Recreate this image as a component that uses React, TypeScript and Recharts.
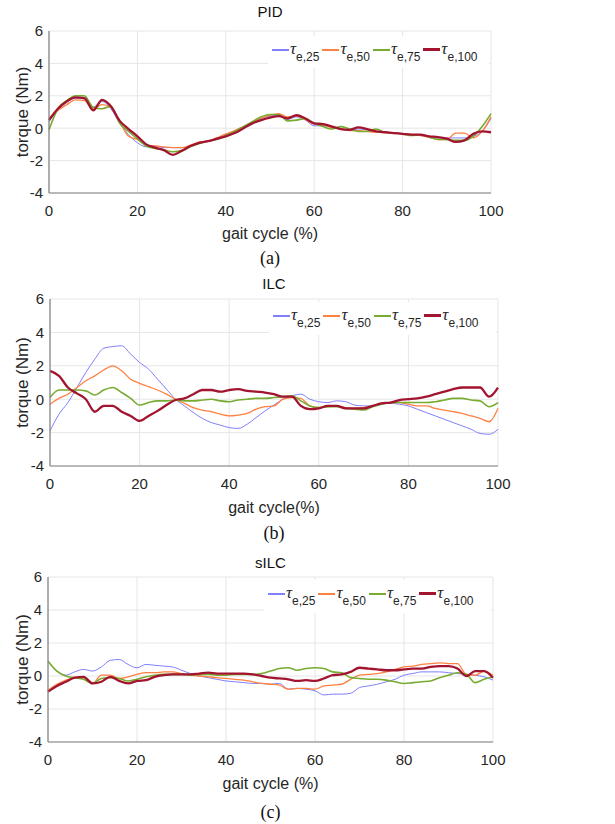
import React from "react";
import {
  LineChart,
  Line,
  XAxis,
  YAxis,
  CartesianGrid,
  Legend,
} from "recharts";

// x positions (% of gait cycle)
const gait = [
  0, 2, 4, 6, 8, 10, 12, 14, 16, 18, 20, 22, 24, 26, 28, 30, 32, 34, 36, 38,
  40, 42, 44, 46, 48, 50, 52, 54, 56, 58, 60, 62, 64, 66, 68, 70, 72, 74, 76,
  78, 80, 82, 84, 86, 88, 90, 92, 94, 96, 98, 100,
];

const xTicks = [0, 20, 40, 60, 80, 100];
const yTicks = [-4, -2, 0, 2, 4, 6];

// PID panel
const pid25 = [
  0.4, 1.1, 1.6, 1.85, 1.8, 1.3, 1.65, 1.2, 0.3, -0.4, -0.9, -1.15, -1.1,
  -1.2, -1.2, -1.2, -1.1, -0.9, -0.8, -0.65, -0.4, -0.2, 0.1, 0.4, 0.6, 0.75,
  0.8, 0.55, 0.7, 0.5, 0.15, 0.15, 0.05, -0.05, -0.1, -0.05, -0.1, -0.2,
  -0.25, -0.3, -0.35, -0.4, -0.45, -0.5, -0.6, -0.6, -0.6, -0.6, -0.5, -0.2,
  0.6,
];
const pid50 = [
  0.6, 1.1, 1.45, 1.75, 1.7, 1.2, 1.45, 1.3, 0.4, -0.5, -0.7, -1.05, -1.1,
  -1.15, -1.2, -1.2, -1.05, -0.85, -0.8, -0.6, -0.35, -0.15, 0.1, 0.35, 0.6,
  0.8, 0.9, 0.7, 0.75, 0.55, 0.25, 0.2, 0.05, -0.05, -0.15, -0.15, -0.2,
  -0.25, -0.25, -0.3, -0.35, -0.4, -0.45, -0.55, -0.7, -0.7, -0.3, -0.3,
  -0.6, -0.2, 0.7,
];
const pid75 = [
  -0.1, 1.2, 1.7, 2.0, 2.0, 1.3, 1.2, 1.35, 0.3, -0.2, -0.65, -1.1, -1.25,
  -1.35, -1.45, -1.4, -1.15, -0.95, -0.8, -0.7, -0.45, -0.2, 0.1, 0.4, 0.7,
  0.85, 0.85, 0.45, 0.5, 0.6, 0.3, 0.1, -0.05, 0.1, -0.05, -0.2, -0.2, -0.05,
  -0.25, -0.3, -0.35, -0.45, -0.4, -0.55, -0.7, -0.7, -0.75, -0.75, -0.5,
  0.1, 0.9,
];
const pid100 = [
  0.5, 1.2, 1.65, 1.9, 1.85, 1.1, 1.75, 1.35, 0.45, -0.05, -0.5, -1.0, -1.2,
  -1.35, -1.65, -1.4, -1.1, -0.9, -0.8, -0.65, -0.5, -0.3, 0, 0.3, 0.5, 0.65,
  0.75, 0.6, 0.8, 0.6, 0.3, 0.25, 0.1, -0.05, -0.1, 0.05, -0.05, -0.2, -0.25,
  -0.3, -0.35, -0.4, -0.4, -0.5, -0.55, -0.65, -0.85, -0.75, -0.35, -0.2,
  -0.25,
];

// ILC panel
const ilc25 = [
  -1.9, -0.9, -0.2, 0.7, 1.6, 2.4, 3.05, 3.15, 3.2, 2.7, 2.2, 1.8, 1.2, 0.6,
  0, -0.4, -0.8, -1.15, -1.4, -1.55, -1.7, -1.75, -1.5, -1.1, -0.7, -0.35, 0,
  0.2, 0.3, 0, -0.15, -0.2, -0.1, -0.15, -0.35, -0.4, -0.4, -0.3, -0.25,
  -0.3, -0.4, -0.6, -0.8, -1.0, -1.2, -1.4, -1.6, -1.8, -2.05, -2.1, -1.8,
];
const ilc50 = [
  -0.3, 0.05, 0.3, 0.7, 1.1, 1.4, 1.75, 2.0, 1.7, 1.2, 0.95, 0.75, 0.55, 0.3,
  0, -0.25, -0.5, -0.65, -0.75, -0.9, -1.0, -0.95, -0.85, -0.6, -0.45, -0.4,
  0, 0.1, 0.05, -0.4, -0.5, -0.45, -0.4, -0.5, -0.55, -0.5, -0.4, -0.25,
  -0.2, -0.2, -0.3, -0.4, -0.4, -0.55, -0.65, -0.75, -0.85, -1.0, -1.15,
  -1.35, -0.55,
];
const ilc75 = [
  0.1, 0.55, 0.55, 0.55, 0.5, 0.25, 0.55, 0.7, 0.4, 0.05, -0.35, -0.2, -0.1,
  -0.1, -0.05, -0.1, -0.1, -0.05, 0, -0.1, -0.15, -0.05, 0, 0.05, 0.05, 0.1,
  0.15, 0.2, -0.1, -0.4, -0.5, -0.45, -0.45, -0.55, -0.6, -0.65, -0.45, -0.3,
  -0.2, -0.2, -0.2, -0.2, -0.2, -0.15, -0.05, 0.05, 0.05, -0.05, -0.1, -0.45,
  -0.2,
];
const ilc100 = [
  1.7, 1.4, 0.7, 0.35, 0, -0.75, -0.4, -0.4, -0.75, -1.0, -1.3, -1.0, -0.7,
  -0.35, -0.05, 0.05, 0.3, 0.55, 0.55, 0.45, 0.55, 0.6, 0.5, 0.45, 0.4, 0.3,
  0.15, 0.15, -0.4, -0.6, -0.55, -0.4, -0.4, -0.55, -0.55, -0.55, -0.4,
  -0.25, -0.2, -0.05, 0, 0.05, 0.15, 0.3, 0.45, 0.6, 0.7, 0.7, 0.7, 0.15,
  0.7,
];

// sILC panel
const silc25 = [
  0.9, 0.3, 0.05, 0.25, 0.4, 0.3, 0.55, 0.95, 1.0, 0.7, 0.5, 0.7, 0.65, 0.6,
  0.55, 0.35, 0.15, 0, -0.1, -0.2, -0.3, -0.35, -0.4, -0.45, -0.45, -0.5,
  -0.45, -0.8, -0.75, -0.8, -0.9, -1.15, -1.1, -1.1, -1.05, -0.7, -0.6, -0.5,
  -0.35, -0.2, 0.05, 0.15, 0.25, 0.25, 0.25, 0.2, 0.15, 0.1, 0.05, -0.05,
  -0.25,
];
const silc50 = [
  -0.85, -0.5, -0.25, -0.1, -0.1, -0.45, 0.05, 0.05, -0.15, -0.05, 0.1, 0.2,
  0.2, 0.25, 0.25, 0.15, 0.05, 0, -0.05, -0.1, -0.15, -0.2, -0.25, -0.35,
  -0.45, -0.5, -0.55, -0.8, -0.75, -0.75, -0.8, -0.6, -0.55, -0.5, -0.2,
  0.05, 0.1, 0.15, 0.25, 0.4, 0.55, 0.6, 0.7, 0.75, 0.8, 0.75, 0.75, 0.1,
  0.05, 0.3, 0.05,
];
const silc75 = [
  0.9, 0.3, 0.0, -0.1, -0.2, -0.45, -0.15, -0.1, -0.15, -0.3, -0.2, -0.05,
  0.05, 0.1, 0.1, 0.1, 0.05, 0.1, 0.1, 0.05, 0.05, 0.1, 0.1, 0.1, 0.15, 0.3,
  0.45, 0.5, 0.35, 0.45, 0.5, 0.45, 0.25, 0.2, -0.1, -0.15, -0.2, -0.2,
  -0.25, -0.35, -0.45, -0.4, -0.35, -0.3, -0.1, 0.05, 0.2, 0.1, -0.4, -0.2,
  -0.05,
];
const silc100 = [
  -0.95, -0.6, -0.35, -0.1, -0.05, -0.45, -0.35, -0.05, -0.3, -0.45, -0.3,
  -0.25, -0.05, 0.05, 0.1, 0.1, 0.1, 0.15, 0.2, 0.15, 0.15, 0.15, 0.15, 0.1,
  0, -0.1, -0.15, -0.2, -0.3, -0.25, -0.3, -0.15, 0.05, 0.1, 0.25, 0.5, 0.45,
  0.4, 0.35, 0.35, 0.4, 0.45, 0.45, 0.55, 0.6, 0.6, 0.45, 0.0, 0.3, 0.3,
  -0.1,
];

const SERIES = [
  { key: "t25", name: "e,25", color: "#7f7fff", width: 1 },
  { key: "t50", name: "e,50", color: "#ff8040", width: 1.3 },
  { key: "t75", name: "e,75", color: "#77ac30", width: 1.6 },
  { key: "t100", name: "e,100", color: "#a2142f", width: 2.3 },
];

const buildRows = (a: number[], b: number[], c: number[], d: number[]) =>
  gait.map((g, i) => ({ gait: g, t25: a[i], t50: b[i], t75: c[i], t100: d[i] }));

const TEXT = "#262626";
const AXIS = "#808080";
const GRID = "#e6e6e6";

// legend with τ and a subscript, drawn in series order
const TauLegend = () => (
  <div
    style={{
      display: "flex",
      background: "#ffffff",
      height: "100%",
      paddingLeft: 4,
      paddingTop: 4,
      boxSizing: "border-box",
    }}
  >
    {SERIES.map((s) => (
      <div key={s.key} style={{ display: "flex", marginRight: 3 }}>
        <div
          style={{
            width: 17,
            height: s.key === "t100" ? 3 : 2,
            background: s.color,
            marginTop: s.key === "t100" ? 8 : 9,
            flexShrink: 0,
          }}
        />
        <span
          style={{
            fontFamily: "'Liberation Serif'",
            fontStyle: "italic",
            fontSize: 17,
            lineHeight: "17px",
            marginLeft: 1,
            color: TEXT,
          }}
        >
          τ
        </span>
        <span
          style={{
            fontFamily: "'Liberation Sans'",
            fontSize: 12,
            lineHeight: "12px",
            marginTop: 11,
            color: TEXT,
          }}
        >
          {s.name}
        </span>
      </div>
    ))}
  </div>
);

type PanelProps = {
  top: number;
  height: number;
  title: string;
  titleY: number;
  caption: string;
  captionY: number;
  xLabel: string;
  rows: any[];
  margin: { top: number; right: number; bottom: number; left: number };
  yAxisWidth: number;
  labelOffset: number;
  legendBox: { left: number; top: number; width: number; height: number };
};

function Panel(p: PanelProps) {
  const centerX = (p.yAxisWidth + 615 - p.margin.right) / 2;
  return (
    <div style={{ position: "absolute", left: 0, top: p.top, width: 615, height: p.height }}>
      <div
        style={{
          position: "absolute",
          left: 0,
          width: centerX * 2,
          top: p.titleY - 9,
          textAlign: "center",
          fontFamily: "'Liberation Sans'",
          fontSize: 15,
          lineHeight: "18px",
          color: "#111",
        }}
      >
        {p.title}
      </div>
      <LineChart width={615} height={p.height} data={p.rows} margin={p.margin}>
        <CartesianGrid stroke={GRID} strokeWidth={1} />
        <XAxis
          dataKey="gait"
          type="number"
          domain={[0, 100]}
          ticks={xTicks}
          height={50}
          tickLine={false}
          tickSize={8}
          tickMargin={4}
          axisLine={{ stroke: AXIS, strokeWidth: 1.2 }}
          tick={{ fontSize: 15, fill: TEXT, fontFamily: "'Liberation Sans'" }}
          label={{
            value: p.xLabel,
            position: "insideBottom",
            offset: p.labelOffset,
            style: { fill: TEXT, fontSize: 16, fontFamily: "'Liberation Sans'" },
          }}
        />
        <XAxis
          xAxisId="top"
          orientation="top"
          type="number"
          domain={[0, 100]}
          ticks={xTicks}
          height={0}
          tick={false}
          tickLine={false}
          axisLine={{ stroke: AXIS, strokeWidth: 1 }}
        />
        <YAxis
          type="number"
          domain={[-4, 6]}
          ticks={yTicks}
          width={p.yAxisWidth}
          tickLine={false}
          tickSize={4}
          tickMargin={2}
          axisLine={{ stroke: AXIS, strokeWidth: 1.2 }}
          tick={{ fontSize: 15, fill: TEXT, fontFamily: "'Liberation Sans'" }}
          label={{
            value: "torque (Nm)",
            angle: -90,
            position: "insideLeft",
            offset: 22,
            style: {
              textAnchor: "middle",
              fill: TEXT,
              fontSize: 17,
              fontFamily: "'Liberation Sans'",
            },
          }}
        />
        <YAxis
          yAxisId="right"
          orientation="right"
          type="number"
          domain={[-4, 6]}
          ticks={yTicks}
          width={0}
          tick={false}
          tickLine={false}
          axisLine={{ stroke: AXIS, strokeWidth: 1 }}
        />
        <Legend
          layout="horizontal"
          verticalAlign="middle"
          align="center"
          content={<TauLegend />}
          wrapperStyle={{
            left: p.legendBox.left,
            top: p.legendBox.top,
            width: p.legendBox.width,
            height: p.legendBox.height,
            right: "auto",
            bottom: "auto",
          }}
        />
        {SERIES.map((s) => (
          <Line
            key={s.key}
            dataKey={s.key}
            name={s.name}
            type="monotone"
            stroke={s.color}
            strokeWidth={s.width}
            dot={false}
            activeDot={false}
            isAnimationActive={false}
          />
        ))}
      </LineChart>
      <div
        style={{
          position: "absolute",
          left: 0,
          width: centerX * 2,
          top: p.captionY - 11,
          textAlign: "center",
          fontFamily: "'Liberation Serif'",
          fontSize: 18,
          lineHeight: "22px",
          color: "#111",
        }}
      >
        {p.caption}
      </div>
    </div>
  );
}

export default function App() {
  return (
    <div
      style={{
        position: "absolute",
        left: 0,
        top: 0,
        width: 615,
        height: 824,
        background: "#ffffff",
      }}
    >
      <Panel
        top={0}
        height={270}
        title="PID"
        titleY={12}
        caption="(a)"
        captionY={258}
        xLabel="gait cycle (%)"
        rows={buildRows(pid25, pid50, pid75, pid100)}
        margin={{ top: 31, right: 124, bottom: 27, left: 0 }}
        yAxisWidth={49}
        labelOffset={4}
        legendBox={{ left: 268, top: 36, width: 221, height: 32 }}
      />
      <Panel
        top={270}
        height={270}
        title="ILC"
        titleY={14}
        caption="(b)"
        captionY={263}
        xLabel="gait cycle(%)"
        rows={buildRows(ilc25, ilc50, ilc75, ilc100)}
        margin={{ top: 29, right: 117, bottom: 24, left: 0 }}
        yAxisWidth={50}
        labelOffset={3}
        legendBox={{ left: 269, top: 32, width: 227, height: 33 }}
      />
      <Panel
        top={540}
        height={284}
        title="sILC"
        titleY={23}
        caption="(c)"
        captionY={272}
        xLabel="gait cycle (%)"
        rows={buildRows(silc25, silc50, silc75, silc100)}
        margin={{ top: 37, right: 122, bottom: 32, left: 0 }}
        yAxisWidth={48}
        labelOffset={3}
        legendBox={{ left: 264, top: 40, width: 227, height: 33 }}
      />
    </div>
  );
}
